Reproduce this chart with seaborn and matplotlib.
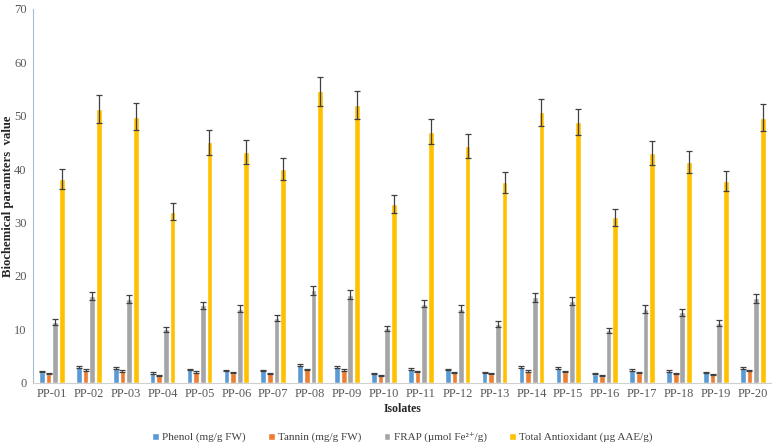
"""
Biochemical parameters of isolates - grouped bar chart with error bars
"""
import pandas as pd
import numpy as np
import matplotlib.pyplot as plt
import seaborn as sns

# Data
isolates = [f"PP-{i:02d}" for i in range(1, 21)]
phenol = [2.1, 3.0, 2.8, 1.8, 2.5, 2.3, 2.3, 3.3, 3.0, 1.8,
          2.6, 2.5, 2.0, 2.9, 2.8, 1.7, 2.4, 2.2, 2.0, 2.8]
tannin = [1.7, 2.4, 2.2, 1.4, 2.0, 1.9, 1.8, 2.5, 2.4, 1.4,
          2.1, 2.0, 1.7, 2.2, 2.1, 1.3, 1.9, 1.8, 1.6, 2.3]
frap = [11.4, 16.2, 15.7, 10.0, 14.5, 13.9, 12.1, 17.3, 16.5, 10.2,
        14.8, 13.9, 11.0, 16.0, 15.3, 9.8, 13.8, 13.2, 11.2, 15.8]
total_antiox = [38.2, 51.3, 49.8, 32.0, 45.0, 43.2, 40.0, 54.6, 52.0, 33.5,
                47.0, 44.3, 37.5, 50.6, 48.8, 31.0, 43.0, 41.3, 37.8, 49.6]
phenol_err = [0.15, 0.15, 0.15, 0.12, 0.15, 0.12, 0.12, 0.15, 0.15, 0.1,
              0.15, 0.12, 0.1, 0.15, 0.15, 0.1, 0.12, 0.12, 0.1, 0.15]
tannin_err = [0.12, 0.12, 0.12, 0.1, 0.12, 0.1, 0.1, 0.12, 0.12, 0.1,
              0.12, 0.1, 0.1, 0.12, 0.12, 0.1, 0.1, 0.1, 0.1, 0.12]
frap_err = [0.6, 0.8, 0.8, 0.5, 0.7, 0.7, 0.6, 0.9, 0.8, 0.5,
            0.7, 0.7, 0.55, 0.8, 0.75, 0.5, 0.7, 0.65, 0.55, 0.8]
total_err = [1.9, 2.6, 2.5, 1.6, 2.3, 2.2, 2.0, 2.7, 2.6, 1.7,
             2.3, 2.2, 1.9, 2.5, 2.4, 1.6, 2.2, 2.1, 1.9, 2.5]

series = ["Phenol (mg/g FW)", "Tannin (mg/g FW)",
          "FRAP (µmol Fe²⁺/g)", "Total Antioxidant (µg AAE/g)"]
colors = ["#5B9BD5", "#ED7D31", "#A5A5A5", "#FFC000"]

values = [phenol, tannin, frap, total_antiox]
errors = [phenol_err, tannin_err, frap_err, total_err]

df = pd.DataFrame({
    "Isolate": isolates * 4,
    "Parameter": np.repeat(series, len(isolates)),
    "Value": np.concatenate(values),
})

sns.set_style("white")
plt.rcParams['font.family'] = ['Liberation Serif', 'DejaVu Serif']

fig, ax = plt.subplots(figsize=(7.79, 4.43), dpi=100)
fig.subplots_adjust(left=0.043, right=0.99, bottom=0.136, top=0.98)

sns.barplot(data=df, x="Isolate", y="Value", hue="Parameter",
            hue_order=series, palette=colors, saturation=1,
            width=0.72, gap=0.14, errorbar=None, ax=ax, legend=True)

# error bars on each bar
for cont, err in zip(ax.containers, errors):
    xs = [p.get_x() + p.get_width() / 2 for p in cont.patches]
    ys = [p.get_height() for p in cont.patches]
    ax.errorbar(xs, ys, yerr=err, fmt="none", ecolor="#404040",
                elinewidth=0.9, capsize=2.2, capthick=0.9)

ax.set_ylim(0, 70)
ax.set_xlim(-0.5, len(isolates) - 0.5)
ax.set_yticks(range(0, 71, 10))
ax.set_xlabel("Isolates", fontsize=8.5, fontweight="bold", labelpad=2)
ax.set_ylabel("Biochemical paramters  value", fontsize=9.2, fontweight="bold")
ax.yaxis.set_label_coords(-0.026, 0.5)

ax.tick_params(axis="both", labelsize=9, labelcolor="#595959")
ax.tick_params(axis="y", length=3, color="#A9BCC9", pad=2)
ax.tick_params(axis="x", length=0, pad=4)
ax.set_xticks(np.arange(-0.5, len(isolates), 1), minor=True)
ax.tick_params(axis="x", which="minor", length=3, color="#D0D0D0")

for side in ["top", "right"]:
    ax.spines[side].set_visible(False)
ax.spines["left"].set_color("#A9BCC9")
ax.spines["bottom"].set_color("#D0D0D0")

ax.legend(loc="upper center", bbox_to_anchor=(0.5, -0.105), ncol=4, frameon=False,
          fontsize=8, handlelength=0.6, handleheight=0.6, handletextpad=0.3,
          columnspacing=2.0, labelcolor="#404040")

plt.savefig("out.png", dpi=100)
